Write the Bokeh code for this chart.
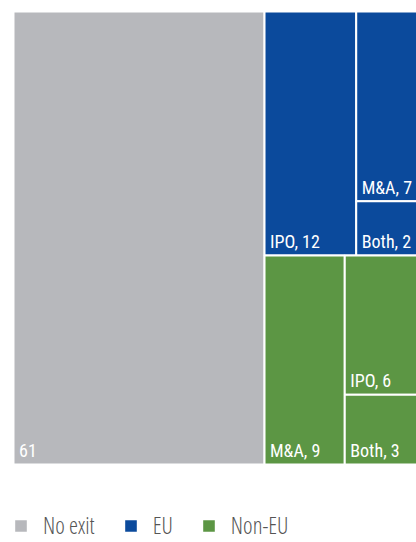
from bokeh.plotting import figure
from bokeh.models import Range1d, Legend, LegendItem, ColumnDataSource
from bokeh.core.properties import value
from bokeh.embed import file_html
from bokeh.resources import INLINE

# ---- data ----
groups = ["No exit", "EU", "Non-EU"]
no_exit_value = 61
eu_labels = ["IPO", "M&A", "Both"]
eu_values = [12, 7, 2]
noneu_labels = ["M&A", "IPO", "Both"]
noneu_values = [9, 6, 3]
colors = ["#b7b8bc", "#0b4a9c", "#5c9644"]

BOX_FONT = "Roboto Condensed, DejaVu Sans Condensed, sans-serif"
LEG_FONT = "Open Sans Condensed Light, Roboto Condensed, sans-serif"

total = no_exit_value + sum(eu_values) + sum(noneu_values)
exit_total = sum(eu_values) + sum(noneu_values)


def split_group(vals, x0, x1, y0, y1):
    """first value takes a full-height column on the left, rest stacked."""
    s = sum(vals)
    xm = x0 + (x1 - x0) * vals[0] / s
    rects = [(x0, xm, y0, y1)]
    rest = sum(vals[1:])
    top = y1
    for v in vals[1:]:
        h = (y1 - y0) * v / rest
        rects.append((xm, x1, top - h, top))
        top -= h
    return rects


x_split = no_exit_value / total
y_split = sum(noneu_values) / exit_total

boxes = {
    "No exit": ([(0.0, x_split, 0.0, 1.0)], [str(no_exit_value)]),
    "EU": (split_group(eu_values, x_split, 1.0, y_split, 1.0),
           [f"{l}, {v}" for l, v in zip(eu_labels, eu_values)]),
    "Non-EU": (split_group(noneu_values, x_split, 1.0, 0.0, y_split),
               [f"{l}, {v}" for l, v in zip(noneu_labels, noneu_values)]),
}

W, H = 416, 542
sx = 411.5  # px per unit
sy = 453.0
p = figure(width=W, height=H, output_backend="svg", toolbar_location=None,
           x_range=Range1d(-13 / sx, (W - 13) / sx),
           y_range=Range1d(-78 / sy, 1 + 11 / sy),
           min_border=0, min_border_left=0, min_border_right=0,
           min_border_top=0, min_border_bottom=0)
p.axis.visible = False
p.grid.visible = False
p.outline_line_color = None
p.background_fill_color = "white"
p.border_fill_color = "white"

items = []
srcs = []
for g, c in zip(groups, colors):
    rects, labels = boxes[g]
    src = ColumnDataSource(dict(
        left=[r[0] for r in rects], right=[r[1] for r in rects],
        bottom=[r[2] for r in rects], top=[r[3] for r in rects],
        lx=[r[0] + 5.5 / sx for r in rects],
        ly=[r[2] + 14 / sy for r in rects],
        label=labels))
    r = p.quad(left="left", right="right", bottom="bottom", top="top",
               source=src, fill_color=c, line_color="white", line_width=2)
    srcs.append(src)
    items.append(LegendItem(label=g, renderers=[r]))

for src in srcs:
    p.text(x="lx", y="ly", text="label", source=src,
           text_color="white",
           text_font=value(BOX_FONT), text_font_size="18px",
           text_baseline="alphabetic", text_align="left")

legend = Legend(items=items, orientation="horizontal", location=(12, 1),
                glyph_width=17, glyph_height=17, label_standoff=14,
                spacing=27, padding=0, margin=0,
                border_line_alpha=0, background_fill_alpha=0,
                label_text_font=LEG_FONT, label_text_font_size="23px",
                label_text_color="#555555")
p.add_layout(legend)

open("out.html", "w").write(file_html(p, INLINE))
